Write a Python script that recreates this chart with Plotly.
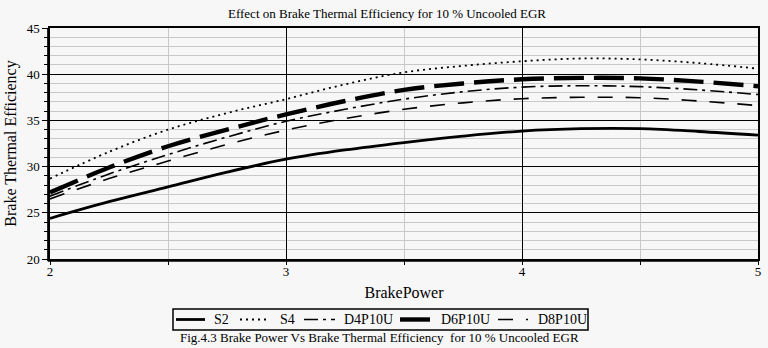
import plotly.graph_objects as go

# Brake power (kW) and brake thermal efficiency (%) for each fuel blend
brake_power = [2.0, 2.25, 2.5, 2.75, 3.0, 3.25, 3.5, 3.75, 4.0, 4.25, 4.5, 4.75, 5.0]
s2 = [24.4, 26.2, 27.8, 29.4, 30.8, 31.8, 32.6, 33.3, 33.85, 34.1, 34.1, 33.8, 33.4]
s4 = [28.7, 31.6, 34.0, 35.8, 37.3, 38.9, 40.2, 40.9, 41.4, 41.7, 41.6, 41.2, 40.6]
d4p10u = [26.8, 29.2, 31.3, 33.2, 34.9, 36.2, 37.3, 38.1, 38.6, 38.75, 38.65, 38.3, 37.8]
d6p10u = [27.2, 29.9, 32.2, 34.0, 35.65, 37.1, 38.3, 39.0, 39.45, 39.6, 39.55, 39.2, 38.7]
d8p10u = [26.5, 28.7, 30.6, 32.4, 33.95, 35.2, 36.2, 36.9, 37.35, 37.5, 37.45, 37.1, 36.6]

series = [
    ("S2", s2, dict(width=2.8, dash="solid")),
    ("S4", s4, dict(width=1.8, dash="2px,4px")),
    ("D4P10U", d4p10u, dict(width=1.6, dash="14px,5px,3px,5px")),
    ("D6P10U", d6p10u, dict(width=4.4, dash="30px,10px")),
    ("D8P10U", d8p10u, dict(width=1.6, dash="15px,13px")),
]

SERIF = "Liberation Serif, Times New Roman, serif"
BG = "#f7f7f7"

# Plot area in pixels: used to place the legend box and caption below it
L, R, T, B = 50, 758, 28, 259
PW, PH = R - L, B - T


def px(xp):
    return (xp - L) / PW


def py(yp):
    return (B - yp) / PH


fig = go.Figure()
for name, ys, style in series:
    fig.add_trace(go.Scatter(
        x=brake_power, y=ys, name=name, mode="lines", showlegend=False,
        line=dict(color="black", shape="spline", smoothing=1.0, **style),
    ))

fig.update_layout(
    width=768, height=348,
    margin=dict(l=L, r=768 - R, t=T, b=348 - B, autoexpand=False),
    paper_bgcolor=BG, plot_bgcolor=BG,
    font=dict(family=SERIF, color="black", size=13),
    title=dict(text="Effect on Brake Thermal Efficiency for 10 % Uncooled EGR",
               x=387 / 768, xanchor="center", y=1 - 13.5 / 348, yanchor="middle",
               font=dict(size=13, family=SERIF)),
    xaxis=dict(
        range=[2, 5], tickvals=[2, 3, 4, 5], ticktext=["2", "3", "4", "5"],
        showgrid=True, gridcolor="black", gridwidth=1,
        minor=dict(dtick=0.5, showgrid=True, gridcolor="#c8c8c8", gridwidth=1,
                   ticks="outside", ticklen=4, tickcolor="black"),
        ticks="", showline=True, linecolor="black", linewidth=1.5, mirror=True,
        zeroline=False, tickfont=dict(size=13, family=SERIF),
        title=dict(text="BrakePower", font=dict(size=16, family=SERIF), standoff=8),
    ),
    yaxis=dict(
        range=[20, 45], dtick=5, tick0=20,
        showgrid=True, gridcolor="black", gridwidth=1,
        minor=dict(dtick=1, showgrid=True, gridcolor="#c8c8c8", gridwidth=1,
                   ticks="outside", ticklen=4, tickcolor="black"),
        ticks="outside", ticklen=6, tickcolor="black",
        showline=True, linecolor="black", linewidth=1.5, mirror=True,
        zeroline=False, tickfont=dict(size=13, family=SERIF),
        title=dict(text="Brake Thermal Efficiency", font=dict(size=16, family=SERIF), standoff=6),
    ),
)

# Doubled frame lines along the left and bottom edges
fig.add_shape(type="line", xref="paper", yref="paper",
              x0=px(L - 2.2), x1=px(L - 2.2), y0=py(B + 2), y1=1,
              line=dict(color="black", width=1.3))
fig.add_shape(type="line", xref="paper", yref="paper",
              x0=px(L - 2.2), x1=1, y0=py(B + 2.2), y1=py(B + 2.2),
              line=dict(color="black", width=1.3))

# Boxed single-row legend under the x-axis title
fig.add_shape(type="rect", xref="paper", yref="paper",
              x0=px(173), x1=px(588), y0=py(330), y1=py(309),
              line=dict(color="black", width=1.5), fillcolor=BG)
legend_slots = [(176, 205, 213), (240, 269, 279), (304, 335, 343),
                (400, 433, 440), (498, 528, 537)]
for (name, _, style), (s0, s1, tx) in zip(series, legend_slots):
    fig.add_shape(type="line", xref="paper", yref="paper",
                  x0=px(s0), x1=px(s1), y0=py(319.5), y1=py(319.5),
                  line=dict(color="black", width=style["width"], dash=style["dash"]))
    fig.add_annotation(text=name, xref="paper", yref="paper",
                       x=px(tx - 1), y=py(319.5), xanchor="left", yanchor="middle",
                       showarrow=False, font=dict(size=14, family=SERIF))

# Figure caption under the legend
fig.add_annotation(
    text="Fig.4.3 Brake Power Vs Brake Thermal Efficiency  for 10 % Uncooled EGR",
    xref="paper", yref="paper", x=px(379), y=py(337),
    xanchor="center", yanchor="middle", showarrow=False,
    font=dict(size=13, family=SERIF),
)

fig.write_html("out.html")
